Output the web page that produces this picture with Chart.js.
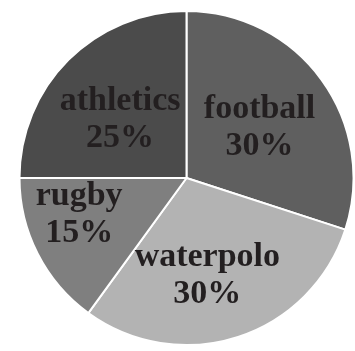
<!DOCTYPE html>
<html>
<head>
<meta charset="utf-8">
<script src="https://cdn.jsdelivr.net/npm/chart.js@4/dist/chart.umd.min.js"></script>
<style>
html,body{margin:0;padding:0;background:#fff;}
#wrap{width:355px;height:351px;}
</style>
</head>
<body>
<div id="wrap"><canvas id="c" width="355" height="351"></canvas></div>
<script>
const categories = ["football", "waterpolo", "rugby", "athletics"];
const shares = [30, 30, 15, 25];
const percentLabels = ["30%", "30%", "15%", "25%"];
const sliceColors = ["#5f5f5f", "#b3b3b3", "#7f7f7f", "#4b4b4b"];
const labelRadius = [0.53, 0.6, 0.68, 0.53];
const labelAngleShift = [1.6, 6, 8, -3.6];

const labelPlugin = {
  id: 'sliceLabels',
  afterDatasetsDraw(chart) {
    const ctx = chart.ctx;
    const meta = chart.getDatasetMeta(0);
    ctx.save();
    ctx.fillStyle = '#231f20';
    ctx.textAlign = 'center';
    ctx.textBaseline = 'middle';
    ctx.font = 'bold 34px "Liberation Serif", "DejaVu Serif", serif';
    meta.data.forEach((arc, i) => {
      const p = arc.getProps(['x','y','startAngle','endAngle','outerRadius'], true);
      const mid = (p.startAngle + p.endAngle) / 2 + labelAngleShift[i] * Math.PI / 180;
      const r = p.outerRadius * labelRadius[i];
      const cx = p.x + Math.cos(mid) * r;
      const cy = p.y + Math.sin(mid) * r;
      ctx.fillText(categories[i], cx, cy - 18.5);
      ctx.fillText(percentLabels[i], cx, cy + 18.5);
    });
    ctx.restore();
  }
};

new Chart(document.getElementById('c'), {
  type: 'pie',
  data: {
    labels: categories,
    datasets: [{
      data: shares,
      backgroundColor: sliceColors,
      borderColor: '#ffffff',
      borderWidth: 2
    }]
  },
  options: {
    responsive: false,
    animation: false,
    layout: { padding: { left: 18, right: 0, top: 10, bottom: 5 } },
    plugins: { legend: { display: false }, tooltip: { enabled: false } }
  },
  plugins: [labelPlugin]
});
</script>
</body>
</html>
